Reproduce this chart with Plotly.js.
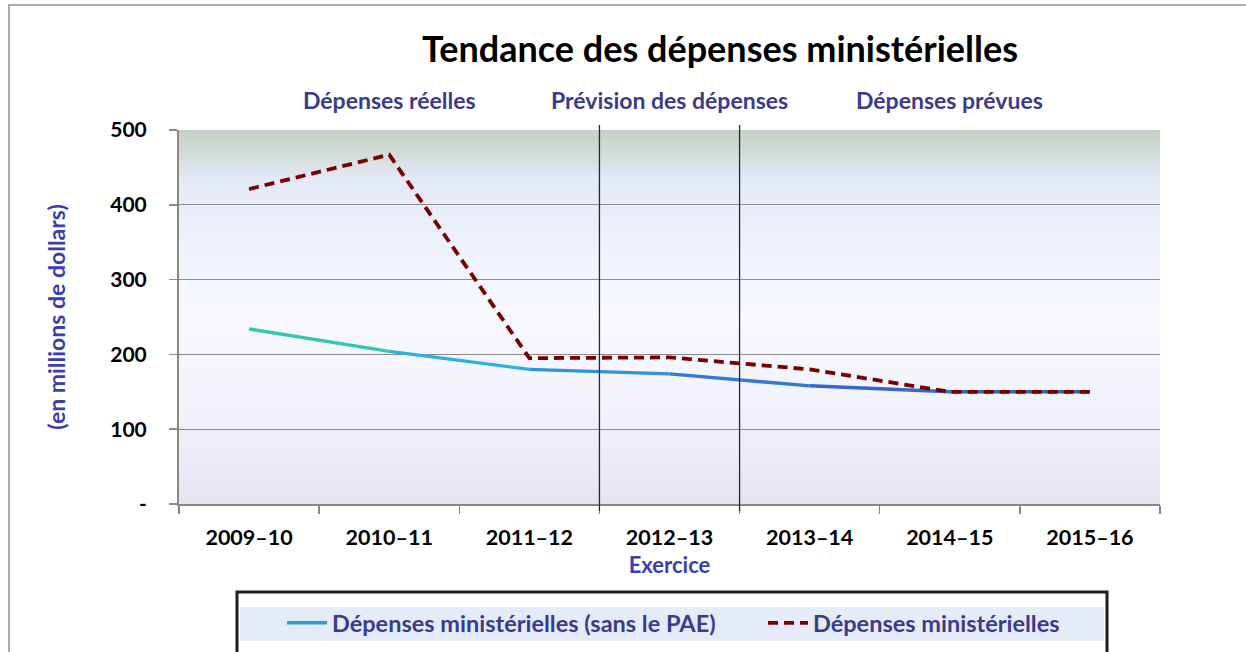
<!DOCTYPE html>
<html><head><meta charset="utf-8">
<script src="https://cdn.plot.ly/plotly-3.0.1.min.js"></script>
<style>body{margin:0;background:#fff}#chart{width:1246px;height:652px}</style>
</head><body><div id="chart"></div>
<script>
// ---- data ----
const categories = ['2009–10','2010–11','2011–12','2012–13','2013–14','2014–15','2015–16'];
const depensesSansPAE = [234, 204, 180, 174, 158, 150, 150];
const depensesMinisterielles = [421, 467, 195, 196, 180, 150, 150];
const yTickVals = [0, 100, 200, 300, 400, 500];
const yTickText = ['-', '100', '200', '300', '400', '500'];
const periodLabels = ['Dépenses réelles', 'Prévision des dépenses', 'Dépenses prévues'];
const periodCenterCats = ['2010–11', '2012–13', '2014–15'];
const dividerAfterCats = ['2011–12', '2012–13'];
const seriesNames = ['Dépenses ministérielles (sans le PAE)', 'Dépenses ministérielles'];

// ---- style ----
const FONT = 'Lato, "Open Sans", sans-serif';
const LABEL_COLOR = '#3b3b8c';
const AXIS_TITLE_COLOR = '#3a3fb0';
const blueSegColors = ['#36c4b8', '#2cb2dc', '#2f92d8', '#3279d0', '#3568c8', '#3a62c4'];

const traces = [];
// gradient-like blue line drawn as consecutive segments
for (let i = 0; i < categories.length - 1; i++) {
  traces.push({
    type: 'scatter', mode: 'lines',
    x: [categories[i], categories[i + 1]],
    y: [depensesSansPAE[i], depensesSansPAE[i + 1]],
    line: {color: blueSegColors[i], width: 3.4},
    showlegend: false, hoverinfo: 'skip'
  });
}
// legend entry for blue series
traces.push({
  type: 'scatter', mode: 'lines',
  x: [categories[0]], y: [null],
  name: seriesNames[0],
  line: {color: '#2f9ad8', width: 3.4},
  showlegend: true, legend: 'legend'
});
traces.push({
  type: 'scatter', mode: 'lines',
  x: categories, y: depensesMinisterielles,
  name: seriesNames[1],
  line: {color: '#7a0000', width: 3.8, dash: '10px,6px'},
  showlegend: true, legend: 'legend2'
});

// paper coordinate helpers (plot area: x 179..1160, y 130..504)
const L = 179, R = 1160, T = 130, B = 504;
const px = v => (v - L) / (R - L);
const py = v => (B - v) / (B - T);

const shapes = [
  // outer frame
  {type: 'rect', xref: 'paper', yref: 'paper', x0: px(9), x1: px(1252), y0: py(662), y1: py(5),
   line: {color: '#8e8e8e', width: 1.5}, fillcolor: 'rgba(0,0,0,0)', layer: 'below'},
  // legend band
  {type: 'rect', xref: 'paper', yref: 'paper', x0: px(240), x1: px(1104), y0: py(641), y1: py(607),
   line: {width: 0}, fillcolor: '#e5ecf9', layer: 'below'},
  // legend box
  {type: 'rect', xref: 'paper', yref: 'paper', x0: px(237), x1: px(1107), y0: py(662), y1: py(592),
   line: {color: '#1e1e1e', width: 3}, fillcolor: 'rgba(0,0,0,0)', layer: 'below'}
];
dividerAfterCats.forEach(c => {
  const xi = categories.indexOf(c) + 0.5;
  shapes.push({type: 'line', xref: 'x', yref: 'paper', x0: xi, x1: xi, y0: py(511), y1: py(125),
               line: {color: '#2a2a2a', width: 1.3}, layer: 'above'});
});

const annotations = periodLabels.map((t, i) => ({
  text: t, xref: 'x', yref: 'paper', x: periodCenterCats[i], y: py(100),
  xanchor: 'center', yanchor: 'middle', showarrow: false,
  font: {family: FONT, size: 23, color: LABEL_COLOR, weight: 'bold'}
}));

const bgSvg = '<svg xmlns="http://www.w3.org/2000/svg" width="100" height="100" preserveAspectRatio="none">' +
  '<defs><linearGradient id="g" x1="0" y1="0" x2="0" y2="1">' +
  '<stop offset="0" stop-color="#c5d1c5"/>' +
  '<stop offset="0.05" stop-color="#cfd9d2"/>' +
  '<stop offset="0.13" stop-color="#e3e9f6"/>' +
  '<stop offset="0.3" stop-color="#eef2fc"/>' +
  '<stop offset="0.5" stop-color="#f8f9fe"/>' +
  '<stop offset="0.75" stop-color="#f1f2fa"/>' +
  '<stop offset="1" stop-color="#e5e5f1"/>' +
  '</linearGradient></defs><rect width="100" height="100" fill="url(#g)"/></svg>';

const legendFont = {family: FONT, size: 23.5, color: LABEL_COLOR, weight: 'bold'};

const layout = {
  width: 1246, height: 652,
  margin: {l: L, r: 1246 - R, t: T, b: 652 - B, autoexpand: false},
  paper_bgcolor: '#ffffff',
  plot_bgcolor: 'rgba(0,0,0,0)',
  font: {family: FONT, color: '#000'},
  title: {
    text: 'Tendance des dépenses ministérielles',
    x: 720 / 1246, xanchor: 'center', xref: 'container',
    y: 1 - 49 / 652, yanchor: 'middle', yref: 'container',
    font: {family: FONT, size: 36, color: '#000', weight: 'bold'}
  },
  xaxis: {
    type: 'category', categoryorder: 'array', categoryarray: categories,
    range: [-0.5, categories.length - 0.5],
    tickson: 'boundaries', ticks: 'outside', ticklen: 8, tickcolor: '#888', tickwidth: 1.5,
    showline: true, linecolor: '#888', linewidth: 2,
    showgrid: false, zeroline: false,
    tickfont: {family: FONT, size: 21.5, color: '#000', weight: 'bold'},
    ticklabelstandoff: 13,
    title: {text: 'Exercice', standoff: 9,
            font: {family: FONT, size: 22, color: AXIS_TITLE_COLOR, weight: 'bold'}}
  },
  yaxis: {
    range: [0, 500], tickvals: yTickVals, ticktext: yTickText,
    ticks: 'outside', ticklen: 8, tickcolor: '#888', tickwidth: 1.5,
    showline: true, linecolor: '#888', linewidth: 2,
    showgrid: true, gridcolor: '#8c8c8c', gridwidth: 1, zeroline: false,
    tickfont: {family: FONT, size: 21, color: '#000', weight: 'bold'},
    ticklabelstandoff: 18,
    title: {text: '(en millions de dollars)', standoff: 38,
            font: {family: FONT, size: 23, color: AXIS_TITLE_COLOR, weight: 'bold'}}
  },
  showlegend: true,
  legend: {
    orientation: 'h', x: px(282), xanchor: 'left', y: py(623), yanchor: 'middle',
    bgcolor: 'rgba(0,0,0,0)', font: legendFont, itemwidth: 40
  },
  legend2: {
    orientation: 'h', x: px(763), xanchor: 'left', y: py(623), yanchor: 'middle',
    bgcolor: 'rgba(0,0,0,0)', font: legendFont, itemwidth: 40
  },
  images: [{
    source: 'data:image/svg+xml;charset=utf-8,' + encodeURIComponent(bgSvg),
    xref: 'paper', yref: 'paper', x: 0, y: 1, sizex: 1, sizey: 1,
    xanchor: 'left', yanchor: 'top', sizing: 'stretch', layer: 'below'
  }],
  shapes: shapes,
  annotations: annotations
};

Plotly.newPlot('chart', traces, layout, {displayModeBar: false, staticPlot: true});
</script>
</body></html>
